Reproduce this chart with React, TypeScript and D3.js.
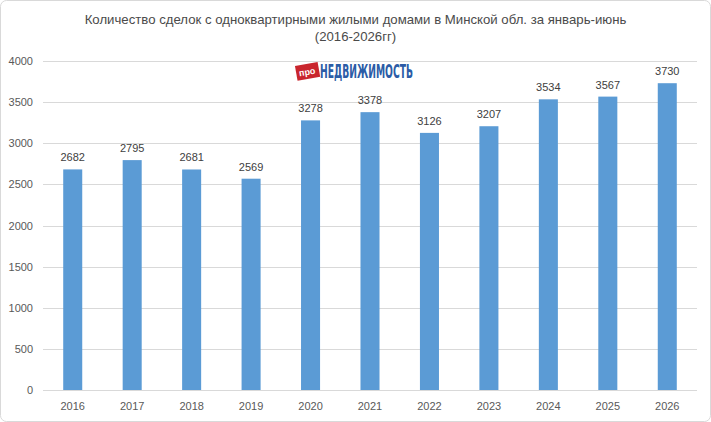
import React, { useEffect, useRef } from 'react';
import * as d3 from 'd3';

const years = ['2016', '2017', '2018', '2019', '2020', '2021', '2022', '2023', '2024', '2025', '2026'];
const deals = [2682, 2795, 2681, 2569, 3278, 3378, 3126, 3207, 3534, 3567, 3730];
const yTicks = [0, 500, 1000, 1500, 2000, 2500, 3000, 3500, 4000];
const titleLines = [
  'Количество сделок с одноквартирными жилыми домами в Минской обл. за январь-июнь',
  '(2016-2026гг)',
];

const width = 711;
const height = 422;

const App: React.FC = () => {
  const svgRef = useRef<SVGSVGElement>(null);

  useEffect(() => {
    if (!svgRef.current) return;
    const svg = d3.select(svgRef.current);
    svg.selectAll('*').remove();

    const margin = { top: 61, right: 14, bottom: 32, left: 43 };
    const innerWidth = width - margin.left - margin.right;
    const innerHeight = height - margin.top - margin.bottom;
    const font = '"Liberation Sans", Arial, sans-serif';

    // chart frame
    svg.append('rect')
      .attr('x', 0.5).attr('y', 0.5)
      .attr('width', width - 1).attr('height', height - 1)
      .attr('rx', 6)
      .attr('fill', '#fff')
      .attr('stroke', '#d9d9d9');

    svg.append('text')
      .attr('x', width / 2)
      .attr('text-anchor', 'middle')
      .style('font-family', font)
      .style('font-size', '13.2px')
      .attr('fill', '#4a4a4a')
      .selectAll('tspan')
      .data(titleLines)
      .enter()
      .append('tspan')
      .attr('x', width / 2)
      .attr('y', (_, i) => 24 + i * 17)
      .text(d => d);

    const x = d3.scaleBand()
      .domain(years)
      .range([0, innerWidth])
      .paddingInner(0.68)
      .paddingOuter(0.34);

    const y = d3.scaleLinear()
      .domain([0, 4000])
      .range([innerHeight, 0]);

    const g = svg.append('g')
      .attr('transform', `translate(${margin.left},${margin.top})`);

    // gridlines
    g.selectAll('line.grid')
      .data(yTicks)
      .enter()
      .append('line')
      .attr('class', 'grid')
      .attr('x1', 0)
      .attr('x2', innerWidth)
      .attr('y1', d => Math.round(y(d)) + 0.5)
      .attr('y2', d => Math.round(y(d)) + 0.5)
      .attr('stroke', '#d9d9d9');

    // y labels
    g.selectAll('text.ytick')
      .data(yTicks)
      .enter()
      .append('text')
      .attr('class', 'ytick')
      .attr('x', -10)
      .attr('y', d => y(d) + 4)
      .attr('text-anchor', 'end')
      .style('font-family', font)
      .style('font-size', '11px')
      .attr('fill', '#595959')
      .text(d => d);

    // x labels
    g.selectAll('text.xtick')
      .data(years)
      .enter()
      .append('text')
      .attr('class', 'xtick')
      .attr('x', d => (x(d) ?? 0) + x.bandwidth() / 2)
      .attr('y', innerHeight + 20)
      .attr('text-anchor', 'middle')
      .style('font-family', font)
      .style('font-size', '11px')
      .attr('fill', '#595959')
      .text(d => d);

    // bars
    g.selectAll('rect.bar')
      .data(deals)
      .enter()
      .append('rect')
      .attr('class', 'bar')
      .attr('x', (_, i) => x(years[i]) ?? 0)
      .attr('y', d => y(d))
      .attr('width', x.bandwidth())
      .attr('height', d => innerHeight - y(d))
      .attr('fill', '#5b9bd5');

    // value labels
    g.selectAll('text.value')
      .data(deals)
      .enter()
      .append('text')
      .attr('class', 'value')
      .attr('x', (_, i) => (x(years[i]) ?? 0) + x.bandwidth() / 2)
      .attr('y', d => y(d) - 8)
      .attr('text-anchor', 'middle')
      .style('font-family', font)
      .style('font-size', '11px')
      .attr('fill', '#404040')
      .text(d => d);

    // logo
    const logo = svg.append('g').attr('transform', 'translate(296,61)');
    logo.append('rect')
      .attr('x', 0).attr('y', 3)
      .attr('width', 23).attr('height', 15)
      .attr('transform', 'rotate(-10 11 10)')
      .attr('fill', '#c9252d');
    logo.append('text')
      .attr('x', 11).attr('y', 14)
      .attr('text-anchor', 'middle')
      .attr('transform', 'rotate(-10 11 10)')
      .style('font-family', font)
      .style('font-size', '9px')
      .style('font-weight', 'bold')
      .attr('fill', '#fff')
      .text('про');
    logo.append('text')
      .attr('x', 24).attr('y', 17)
      .style('font-family', '"Liberation Sans Narrow", "DejaVu Sans Condensed", sans-serif')
      .style('font-size', '19px')
      .style('font-weight', 'bold')
      .attr('textLength', 93)
      .attr('lengthAdjust', 'spacingAndGlyphs')
      .attr('fill', '#2b5ca6')
      .text('НЕДВИЖИМОСТЬ');
  }, []);

  return (
    <svg
      ref={svgRef}
      width={width}
      height={height}
      style={{ display: 'block', position: 'absolute', left: 0, top: 0 }}
    />
  );
};

export default App;
